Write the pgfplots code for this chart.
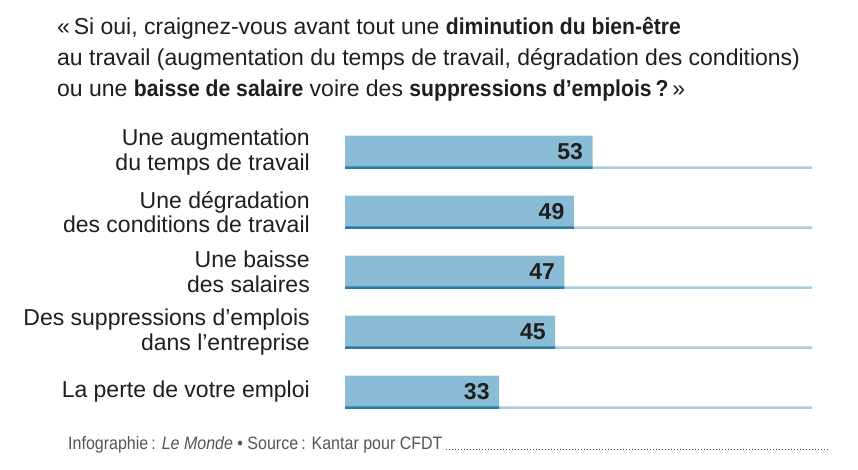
\documentclass[border=0pt]{standalone}
\usepackage{pgfplots}
\pgfplotsset{compat=1.18}
\usepackage{fontspec}
\setmainfont{Liberation Sans}
\newfontfamily\titlefont[BoldFeatures={FakeStretch=0.92}]{Liberation Sans}
\newfontfamily\condensed[FakeStretch=0.89]{Liberation Sans}
\definecolor{barfill}{HTML}{8BBCD6}
\definecolor{bardark}{HTML}{2C7DA6}
\definecolor{baseln}{HTML}{A8CCE0}
\definecolor{txt}{HTML}{1E1E1E}
\definecolor{foot}{HTML}{555555}
\begin{document}
\begin{tikzpicture}[x=1pt,y=1pt]
\path[use as bounding box] (0,0) rectangle (858,-470);
\node[anchor=north west, align=left, inner sep=0, font=\titlefont\fontsize{23}{31}\selectfont, text=txt] at (57,-17)
 {«\,Si oui, craignez-vous avant tout une \textbf{diminution du bien-être}\\
  au travail (augmentation du temps de travail, dégradation des conditions)\\
  ou une \textbf{baisse de salaire} voire des \textbf{suppressions d’emplois\,?}\,»};
\begin{axis}[
  at={(345pt,-422pt)}, anchor=south west,
  scale only axis, width=467pt, height=300pt,
  xmin=0, xmax=100, ymin=-0.5, ymax=4.5,
  xbar, axis line style={draw=none},
  xtick=\empty, ytick={0,1,2,3,4},
  yticklabels={{La perte de votre emploi},{Des suppressions d’emplois\\dans l’entreprise},{Une baisse\\des salaires},{Une dégradation\\des conditions de travail},{Une augmentation\\du temps de travail}},
  major tick length=0pt,
  yticklabel style={align=right, anchor=east, inner sep=0pt, xshift=-35pt, font=\fontsize{23}{24.5}\selectfont, text=txt},
  /pgf/number format/assume math mode=true,
  clip=false,
]
\addplot[fill=baseln, draw=none, bar width=2.5pt, bar shift=-15.5pt] coordinates {(100,0) (100,1) (100,2) (100,3) (100,4)};
\addplot[fill=barfill, draw=none, bar width=33pt, bar shift=0pt,
  nodes near coords, nodes near coords style={anchor=east, xshift=-6pt, font=\bfseries\fontsize{23}{24}\selectfont, text=txt}]
  coordinates {(33,0) (45,1) (47,2) (49,3) (53,4)};
\addplot[fill=bardark, draw=none, bar width=2.5pt, bar shift=-15.5pt] coordinates {(33,0) (45,1) (47,2) (49,3) (53,4)};
\end{axis}
\node[anchor=base west, inner sep=0, font=\condensed\fontsize{18}{20}\selectfont, text=foot] (f) at (68,-449)
 {Infographie\,: \textit{Le Monde} • Source\,: Kantar pour CFDT};
\draw[foot, line width=0.8pt, dash pattern=on 0.8pt off 2.2pt] (446,-449) -- (828,-449);
\end{tikzpicture}
\end{document}
